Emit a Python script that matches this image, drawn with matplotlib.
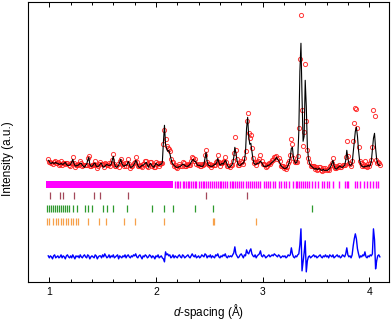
import numpy as np
import matplotlib
matplotlib.use("Agg")
import matplotlib.pyplot as plt

plt.rcParams['font.family'] = ['Liberation Sans', 'DejaVu Sans']
plt.rcParams['mathtext.fontset'] = 'custom'
plt.rcParams['mathtext.it'] = 'Liberation Sans:italic'
plt.rcParams['mathtext.rm'] = 'Liberation Sans'

# pattern sampled every 0.01 A starting at 0.99 A (intensity in arb. units)
d_start = 0.99
d_step = 0.01

i_calc = [
    6,
    5, 3, 3, 4, 3, 3, 4, 3, 3, 2,            # 1.00
    2, 3, 2, 2, 3, 4, 2, 1, 1, 1,            # 1.10
    2, 4, 7, 3, 1, 0, 1, 1, 2, 3,            # 1.20
    3, 1, 0, -1, 1, 2, 6, 9, 2, 0,           # 1.30
    0, 1, 3, 3, 0, 0, 0, 1, 3, 3,            # 1.40
    0, -1, 0, 1, 2, 1, 1, 1, 2, 6,           # 1.50
    10, 3, 0, -1, 0, 1, 4, 7, 3, 1,          # 1.60
    0, 1, 1, 2, 5, 2, -1, -1, 0, 1,          # 1.70
    3, 6, 4, 1, -1, -1, 0, 1, 1, 2,          # 1.80
    3, 4, 1, -1, 2, 3, 1, 0, -1, 1,          # 1.90
    3, 2, 1, 1, 2, 2, 4, 24, 41, 22,         # 2.00
    18, 15, 16, 13, 8, 4, 2, 1, 0, -1,       # 2.10
    -1, -1, 0, 0, 1, 2, 2, 1, 0, 0,          # 2.20
    0, 1, 2, 4, 6, 7, 5, 5, 3, 1,            # 2.30
    1, 1, 0, 0, 0, 2, 8, 14, 5, 1,           # 2.40
    1, 0, 0, 0, 1, 2, 2, 4, 8, 4,            # 2.50
    1, 2, 3, 2, 4, 6, 4, 1, -1, -1,          # 2.60
    0, 1, 3, 9, 19, 13, 6, 2, 1, 1,          # 2.70
    2, 3, 3, 6, 14, 38, 49, 30, 22, 23,      # 2.80
    15, 7, 3, 2, 2, 3, 3, 4, 5, 4,           # 2.90
    2, 0, 0, 0, 0, 1, 1, 2, 3, 4,            # 3.00
    5, 6, 7, 9, 7, 6, 4, 1, 0, -1,           # 3.10
    -2, -2, -2, -1, 1, 4, 9, 18, 19, 8,      # 3.20
    5, 3, 4, 8, 35, 95, 123, 70, 25, 30,     # 3.30
    86, 60, 20, 8, 3, 1, 0, -1, -2, -3,      # 3.40
    -2, -3, -3, -2, -3, -4, -4, -3, -4, -4,  # 3.50
    -4, -4, -3, -2, 0, 3, 6, 1, -2, -3,      # 3.60
    -2, -1, 0, 0, -1, -1, 0, 1, 6, 16,       # 3.70
    8, 3, 1, 1, 3, 14, 25, 35, 39, 30,       # 3.80
    16, 6, 2, 0, 0, -1, 0, 0, 0, 1,          # 3.90
    0, 1, 5, 16, 28, 33, 18, 7, 3, 1,        # 4.00
    1,
]

i_diff = [
    1,
    -1, 1, 0, -2, 1, 2, -1, 0, 1, -1,        # 1.00
    0, 2, -1, 1, 0, -2, 1, 2, 0, -1,         # 1.10
    1, -1, 2, 0, -2, 1, 0, 1, -1, 2,         # 1.20
    0, -1, 1, 2, 0, -1, 2, 1, -2, 0,         # 1.30
    1, 0, -1, 2, 1, -2, 0, 1, 1, -1,         # 1.40
    2, 0, 3, 1, -1, 0, 2, -1, 1, 0,          # 1.50
    2, -1, 0, 1, 2, -2, 1, 0, -1, 1,         # 1.60
    0, 2, -1, 1, 2, 0, -1, 1, 0, 2,          # 1.70
    1, 3, 0, -1, 1, 2, 0, -2, 1, 0,          # 1.80
    2, 1, -1, 0, 2, 1, -1, 1, 0, -2,         # 1.90
    1, 0, 2, -1, 0, 1, -1, -2, -5, 5,        # 2.00
    2, 3, 1, 2, -1, 0, 2, -1, 1, 0,          # 2.10
    -1, 1, 2, 0, -1, 2, 1, -1, 0, 1,         # 2.20
    2, 0, -1, 1, 3, 1, 0, 2, -1, 0,          # 2.30
    1, -1, 0, 2, 1, 0, 3, 2, -1, 1,          # 2.40
    0, 2, -1, 1, 0, -1, 2, 1, 3, 0,          # 2.50
    -1, 1, 0, 2, 1, 3, 0, -1, 1, 0,          # 2.60
    1, 0, 2, 4, 10, 3, 1, -1, 0, 2,          # 2.70
    3, 1, -1, 2, 1, 7, 4, 3, 6, 8,           # 2.80
    3, 1, 0, 2, -1, 1, 2, 3, 6, 1,           # 2.90
    0, 2, 1, -1, 0, 1, 2, 0, 1, 2,           # 3.00
    1, 3, 2, 1, 0, 2, 1, -1, 0, 1,           # 3.10
    0, 1, -1, 0, 2, 1, 2, 9, 3, 0,           # 3.20
    -1, 1, 0, 2, 3, 12, 28, -14, -5, 4,      # 3.30
    16, -15, -4, 0, 1, -1, 0, 1, 2, 0,       # 3.40
    1, -1, 0, 1, 2, 0, -1, 1, 0, 2,          # 3.50
    0, 1, -1, 2, 1, 0, 2, -1, 0, 1,          # 3.60
    2, 0, 1, -1, 0, 2, 1, 0, 3, 9,           # 3.70
    2, 0, 1, -1, 2, 11, 18, 23, 18, 8,       # 3.80
    3, -1, 1, 0, 2, 1, 5, 0, -1, 1,          # 3.90
    0, 2, 1, 3, 28, 17, -12, -4, 1, 2,       # 4.00
    0,
]

# reflection markers (d in A)
main_dense = (0.966, 2.164)   # reflections so close they merge into a bar
main_hkl = [2.18, 2.20, 2.21, 2.23, 2.25, 2.26, 2.28, 2.30, 2.31, 2.33, 2.35,
            2.37, 2.38, 2.40, 2.42, 2.44, 2.45, 2.47, 2.49, 2.51, 2.53, 2.54,
            2.56, 2.58, 2.60, 2.61, 2.63, 2.65, 2.67, 2.69, 2.71, 2.72, 2.74,
            2.76, 2.78, 2.80, 2.82, 2.84, 2.86, 2.88, 2.90, 2.92, 2.94, 2.96,
            2.98, 3.01, 3.03, 3.05, 3.07, 3.10, 3.12, 3.15, 3.17, 3.20, 3.22,
            3.25, 3.283, 3.314, 3.326, 3.345, 3.36, 3.383, 3.399, 3.42, 3.439,
            3.461, 3.492, 3.523, 3.555, 3.58, 3.606, 3.627, 3.659, 3.715,
            3.774, 3.79, 3.805, 3.868, 3.884, 3.915, 3.95, 3.98, 4.01, 4.04,
            4.065, 4.08]
phase2_hkl = [1.007, 1.10, 1.13, 1.23, 1.42, 1.48, 1.74, 2.47, 2.85]
phase3_hkl = [0.976, 0.997, 1.016, 1.038, 1.056, 1.075, 1.094, 1.113, 1.131,
              1.150, 1.169, 1.188, 1.225, 1.263, 1.335, 1.366, 1.398, 1.501,
              1.538, 1.593, 1.729, 1.961, 2.073, 2.158, 2.367, 2.533, 3.462]
phase4_hkl = [0.976, 1.0, 1.038, 1.063, 1.086, 1.110, 1.131, 1.157, 1.178,
              1.204, 1.225, 1.250, 1.272, 1.366, 1.469, 1.532, 1.696, 1.804,
              2.073, 2.532, 2.545, 2.939]

calc = np.array(i_calc, dtype=float)
diff = np.array(i_diff, dtype=float)
obs = calc + diff
d = d_start + d_step * np.arange(len(calc))

diff_offset = -90.5

fig = plt.figure(figsize=(3.92, 3.22), dpi=100)
ax = fig.add_axes([0.0714, 0.124, 0.9221, 0.870])

ax.plot(d, obs, 'o', ms=3.0, mfc='none', mec='#ff2020', mew=0.7, alpha=0.9, zorder=2)
ax.plot(d, calc, '-', color='black', lw=0.8, zorder=3)
ax.plot(d, diff + diff_offset, '-', color='#0000ff', lw=1.0, zorder=3)

# tick rows
ax.fill_between(main_dense, -21.5, -14.5, color='#ff00ff', lw=0, zorder=2)
ax.vlines(main_hkl, -21.5, -14.5, color='#ff00ff', lw=1.0)
ax.vlines(phase2_hkl, -32.5, -25.5, color='#a3485a', lw=0.9)
ax.vlines(phase3_hkl, -45.5, -38.5, color='#2e9a2e', lw=0.9)
ax.vlines(phase4_hkl, -59, -52, color='#f7a04a', lw=0.9)

ax.set_xlim(0.80, 4.19)
ax.set_ylim(-115.7, 164.3)

ax.set_xticks([1, 2, 3, 4])
ax.set_xticks(np.arange(0.8, 4.2, 0.2), minor=True)
ax.tick_params(axis='x', which='both', direction='in', top=True, width=0.7,
               labelsize=7.5, pad=3.5)
ax.tick_params(axis='x', which='major', length=3.6)
ax.tick_params(axis='x', which='minor', length=2.0)
ax.tick_params(axis='y', left=False, labelleft=False)
for s in ax.spines.values():
    s.set_linewidth(0.8)

ax.set_xlabel('$d$-spacing (Å)', fontsize=8.5, labelpad=4)
ax.set_ylabel('Intensity (a.u.)', fontsize=8.5)
ax.yaxis.set_label_coords(-0.040, 0.44)

fig.savefig('out.png', dpi=100)
